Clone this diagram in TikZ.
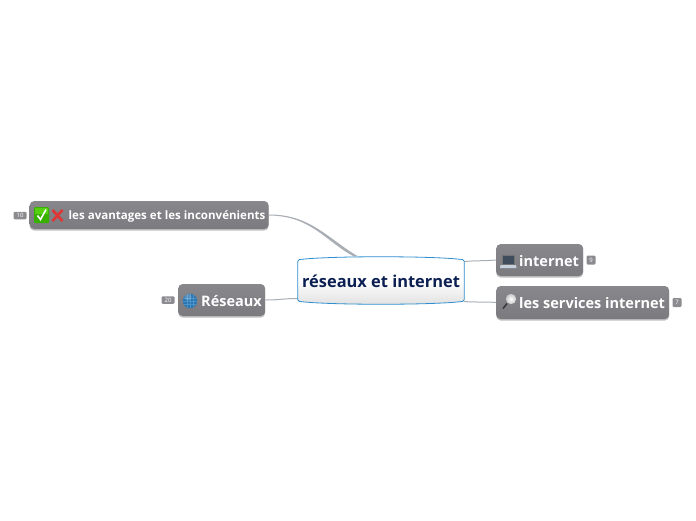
\documentclass[tikz,border=0pt]{standalone}
\usepackage{fontspec}
\setmainfont{Open Sans}
\usetikzlibrary{shadows,calc}
\definecolor{boxtop}{HTML}{87878C}
\definecolor{boxbot}{HTML}{7A7A7F}
\definecolor{linkc}{HTML}{A9AEB4}
\definecolor{navy}{HTML}{0B1F52}
\definecolor{rimblue}{HTML}{2F8FD0}
\definecolor{badge}{HTML}{8C8C90}
\definecolor{chkgreen}{HTML}{38B000}
\definecolor{chklight}{HTML}{55D010}
\definecolor{crossred}{HTML}{E03535}
\definecolor{globeblue}{HTML}{2B74B0}
\definecolor{globeline}{HTML}{4A94CC}
\definecolor{lapscreen}{HTML}{3F4C5C}
\definecolor{lapbase}{HTML}{C4D0DC}
\tikzset{
  topicbox/.style={rounded corners=4.5pt,top color=boxtop,bottom color=boxbot,draw=none,
    drop shadow={shadow xshift=0pt,shadow yshift=-1.6pt,opacity=.35,fill=black!70},
    minimum height=#1,inner sep=0pt,anchor=west},
  toptext/.style={text=white,font=\bfseries,inner sep=0pt,anchor=west},
  badgebox/.style={fill=badge,rounded corners=1.2pt,text=white,font=\fontsize{6}{6}\selectfont,
    minimum width=11pt,minimum height=7.5pt,inner sep=0pt},
  linkline/.style={draw=linkc,line width=1pt},
}
\begin{document}
\begin{tikzpicture}[x=1pt,y=-1pt]
\useasboundingbox (0,0) rectangle (696,520);
% nodes
\node[inner sep=0pt,minimum width=166pt,minimum height=49pt] (root) at (381,280.5) {};
\node[topicbox=28pt,minimum width=239pt] (adv) at (29.5,215) {};
\node[topicbox=32pt,minimum width=87pt] (res) at (178,300) {};
\node[topicbox=32pt,minimum width=87pt] (net) at (496,260) {};
\node[topicbox=33pt,minimum width=173pt] (srv) at (496,302.5) {};
% connectors
\coordinate (rootT) at ($(root.north)+(-25,0.5)$);
\coordinate (rootWb) at ($(root.west)+(0,18)$);
\coordinate (rootEt) at ($(root.east)+(0,-19)$);
\coordinate (rootEb) at ($(root.east)+(0,21)$);
\fill[linkc] ($(adv.east)+(0,-.5)$) .. controls ($(adv.east)+(42,-.6)$) and ($(rootT)+(-27.8,-17.2)$) .. ($(rootT)+(2,0)$)
  -- ($(rootT)+(-2.5,0)$) .. controls ($(rootT)+(-30.2,-14.8)$) and ($(adv.east)+(42,.6)$) .. ($(adv.east)+(0,.5)$) -- cycle;
\draw[linkline] (res.east) .. controls ($(res.east)+(14,0)$) and ($(rootWb)+(-14,0)$) .. (rootWb);
\draw[linkline] (rootEt) .. controls ($(rootEt)+(12,-1)$) and ($(net.west)+(-12,1)$) .. (net.west);
\draw[linkline] (rootEb) .. controls ($(rootEb)+(12,1)$) and ($(srv.west)+(-12,-1)$) .. (srv.west);
% central topic
\path[top color=white,bottom color=black!12,middle color=white]
  (root.north west) ++(0,4) .. controls +(30,-4) and ($(root.north east)+(-30,0)$) .. ($(root.north east)+(0,4)$)
  -- ($(root.south east)+(0,-4)$) .. controls +(-30,4) and ($(root.south west)+(30,0)$) .. ($(root.south west)+(0,-4)$) -- cycle;
\draw[rimblue,line width=.8pt,rounded corners=1.5pt]
  ($(root.north west)+(0,4)$) .. controls +(30,-4) and ($(root.north east)+(-30,0)$) .. ($(root.north east)+(0,4)$)
  -- ($(root.south east)+(0,-4)$) .. controls +(-30,4) and ($(root.south west)+(30,0)$) .. ($(root.south west)+(0,-4)$) -- cycle;
\node[text=navy,font=\bfseries\fontsize{16.4}{18}\selectfont,inner sep=0pt] (roottxt) at (381,281) {réseaux et internet};
% labels
\node[toptext,font=\bfseries\fontsize{11.55}{13}\selectfont] (advtxt) at (68.5,216.5) {les avantages et les inconvénients};
\node[toptext,font=\bfseries\fontsize{14.5}{16}\selectfont] (restxt) at (201,301) {Réseaux};
\node[toptext,font=\bfseries\fontsize{14.5}{16}\selectfont] (nettxt) at (519,261) {internet};
\node[toptext,font=\bfseries\fontsize{14.5}{16}\selectfont] (srvtxt) at (519,303) {les services internet};
% badges
\node[badgebox,minimum width=13pt] (b10) at (20,215.5) {10};
\node[badgebox,minimum width=13pt] (b20) at (168,300) {20};
\node[badgebox,minimum width=9pt,minimum height=9pt] (b9) at (591,260) {9};
\node[badgebox,minimum width=9pt,minimum height=9pt] (b7) at (677,302.5) {7};
% check icon
\fill[chkgreen,rounded corners=1pt] (34,207) rectangle (49,223);
\fill[chklight] (35,208) rectangle (48,214);
\draw[white,line width=1.6pt] (37.5,215.5) -- (40.5,219.5) -- (46,209.5);
% cross icon
\draw[crossred,line width=2.6pt] (52.5,210) -- (62.5,221) (62.5,210) -- (52.5,221);
% globe icon
\fill[globeblue] (190,301) circle (7.2);
\begin{scope}
\clip (190,301) circle (7.2);
\draw[globeline,line width=.25pt] (183,298) -- (197,298) (183,301) -- (197,301) (183,304) -- (197,304)
  (187,294) -- (187,308) (190,294) -- (190,308) (193,294) -- (193,308);
\fill[white,opacity=.2] (188,297) circle (3.5);
\end{scope}
% laptop icon
\fill[black!55] (502,255) rectangle (515,265);
\fill[lapscreen] (503,256) rectangle (514,264);
\fill[lapbase] (500.5,265) -- (516,265) -- (516.5,268) -- (500,268) -- cycle;
% magnifier icon
\draw[black!80,line width=1.4pt] (503,308.5) -- (507,303.5);
\shade[inner color=white,outer color=black!22] (511,299) circle (5.2);
\end{tikzpicture}
\end{document}
